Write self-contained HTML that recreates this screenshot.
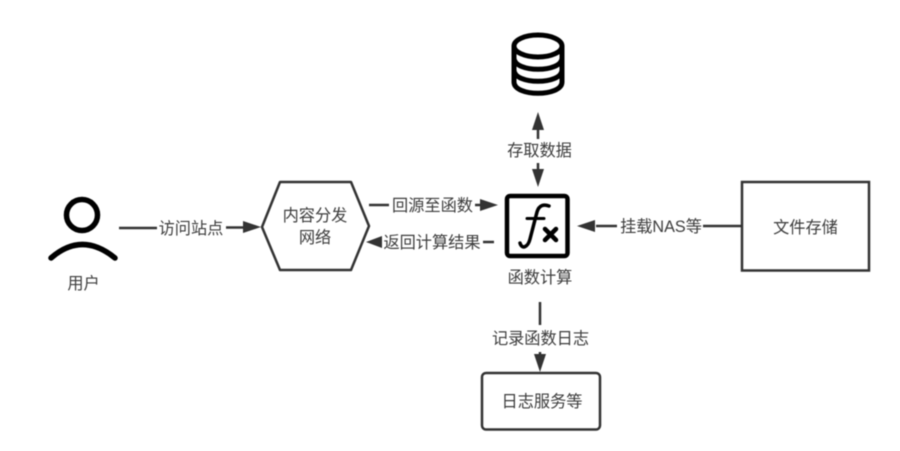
<!DOCTYPE html>
<html><head><meta charset="utf-8">
<style>
html,body{margin:0;padding:0;background:#fff;width:900px;height:451px;overflow:hidden}
svg{display:block;filter:blur(0.45px)}
text{font-family:"Liberation Sans","Noto Sans CJK SC",sans-serif;font-size:16.2px;fill:#3c3c3c;text-anchor:middle}
</style></head><body>
<svg width="900" height="451" viewBox="0 0 900 451" xmlns="http://www.w3.org/2000/svg">
<rect width="900" height="451" fill="#fff"/>
<!-- person -->
<circle cx="82" cy="215" r="15.500" fill="none" stroke="#000" stroke-width="5.500"/>
<path d="M51 258 Q82 231 115 258" fill="none" stroke="#000" stroke-width="5.500" stroke-linecap="round"/>
<text x="83.500" y="289">用户</text>
<!-- connector lines -->
<g stroke="#333" stroke-width="2.500" fill="none">
<line x1="119" y1="228" x2="157" y2="228"/>
<line x1="226" y1="227.500" x2="245" y2="227.500"/>
<line x1="369" y1="205" x2="389" y2="205"/>
<line x1="475" y1="205" x2="482" y2="205"/>
<line x1="483" y1="242" x2="494" y2="242"/>
<line x1="538" y1="128" x2="538" y2="139"/>
<line x1="538" y1="163" x2="538" y2="172"/>
<line x1="540" y1="302" x2="540" y2="325"/>
<line x1="540" y1="352" x2="540" y2="356"/>
<line x1="596" y1="226" x2="617" y2="226"/>
<line x1="703" y1="226" x2="742" y2="226"/>
</g>
<g fill="#333">
<polygon points="261,227 243,221 243,233"/>
<polygon points="498,205 480,199 480,211"/>
<polygon points="366,242 382,236 382,248"/>
<polygon points="538,112 532,130 544,130"/>
<polygon points="538,187 532,169 544,169"/>
<polygon points="540,372 534,354 546,354"/>
<polygon points="577,226 595,220 595,232"/>
</g>
<text x="191" y="234">访问站点</text>
<text x="432.500" y="211">回源至函数</text>
<text x="432" y="248">返回计算结果</text>
<text x="539.500" y="156">存取数据</text>
<text x="540.500" y="344">记录函数日志</text>
<text x="661" y="232">挂载NAS等</text>
<!-- hexagon -->
<polygon points="262,227 280,182 351,182 369,226 351,270 280,270" fill="#fff" stroke="#333" stroke-width="2.500" stroke-linejoin="round"/>
<text x="315" y="221">内容分发</text>
<text x="315" y="243">网络</text>
<!-- fx -->
<rect x="507" y="196" width="60.500" height="60" rx="3" fill="#fff" stroke="#000" stroke-width="4.500"/>
<path d="M520 243 C522 250 528 247 530 239 L537 212 C539 205 544 204 549 206" fill="none" stroke="#000" stroke-width="3.500" stroke-linecap="round"/>
<line x1="527" y1="218.500" x2="544" y2="218.500" stroke="#000" stroke-width="3" stroke-linecap="round"/>
<path d="M545 229 L556 240 M556 229 L545 240" stroke="#000" stroke-width="4.500" stroke-linecap="round" fill="none"/>
<text x="540" y="283">函数计算</text>
<!-- database -->
<g fill="none" stroke="#000" stroke-width="5">
<ellipse cx="538" cy="46" rx="24" ry="11"/>
<path d="M514 46 V82 C514 97 562 97 562 82 V46"/>
<path d="M514 58 C514 73 562 73 562 58"/>
<path d="M514 70 C514 85 562 85 562 70"/>
</g>
<!-- log box -->
<rect x="482" y="373" width="118" height="56.500" rx="4" fill="#fff" stroke="#333" stroke-width="2.500"/>
<text x="542" y="407">日志服务等</text>
<!-- file box -->
<rect x="742" y="182" width="127" height="88.500" fill="#fff" stroke="#333" stroke-width="2.500"/>
<text x="805.500" y="233">文件存储</text>
</svg>
</body></html>
